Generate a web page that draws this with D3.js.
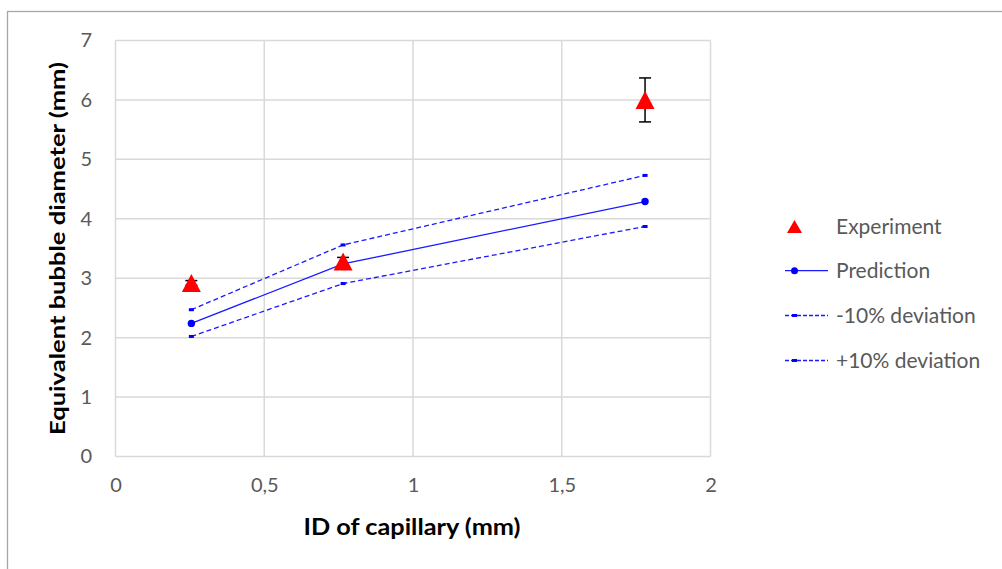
<!DOCTYPE html>
<html>
<head>
<meta charset="utf-8">
<script src="https://cdn.jsdelivr.net/npm/d3@7"></script>
<style>
  html, body { margin: 0; padding: 0; background: #fff; }
  svg { display: block; }
  text { font-family: Lato, "Open Sans", sans-serif; }
</style>
</head>
<body>
<svg id="chart" width="1002" height="569"></svg>
<script>
// ---- data ----
const capillaryID = [0.255, 0.765, 1.78];
const experiment = [2.92, 3.28, 6.0];
const experimentErr = [0.04, 0.07, 0.37];
const prediction = [2.24, 3.24, 4.29];
const minus10 = [2.02, 2.91, 3.87];
const plus10 = [2.47, 3.56, 4.73];
const xTicks = [0, 0.5, 1, 1.5, 2];
const yTicks = [0, 1, 2, 3, 4, 5, 6, 7];
const xTickLabels = ["0", "0,5", "1", "1,5", "2"];
const legendLabels = ["Experiment", "Prediction", "-10% deviation", "+10% deviation"];
const xTitle = "ID of capillary (mm)";
const yTitle = "Equivalent bubble diameter (mm)";

const svg = d3.select("#chart");
const blue = "#1a1aff";
const grey = "#595959";

// outer chart border
svg.append("rect").attr("x", 7.5).attr("y", 11.5).attr("width", 1010).attr("height", 580)
  .attr("fill", "#fff").attr("stroke", "#a6a6a6").attr("stroke-width", 1.3);

const x = d3.scaleLinear().domain([0, 2]).range([115.5, 710.5]);
const y = d3.scaleLinear().domain([0, 7]).range([456.5, 40.5]);

// gridlines
const grid = svg.append("g");
grid.selectAll("line.h").data(yTicks).join("line")
  .attr("x1", x(0)).attr("x2", x(2)).attr("y1", d => y(d)).attr("y2", d => y(d))
  .attr("stroke", "#d9d9d9").attr("stroke-width", 1.5);
grid.selectAll("line.v").data(xTicks).join("line")
  .attr("y1", y(0)).attr("y2", y(7)).attr("x1", d => x(d)).attr("x2", d => x(d))
  .attr("stroke", "#d9d9d9").attr("stroke-width", 1.5);

// axes with d3 axis generators (labels only)
const yAxis = d3.axisLeft(y).tickValues(yTicks).tickSize(0).tickPadding(0).tickFormat(d3.format("d"));
const gy = svg.append("g").attr("transform", `translate(${92},0)`).call(yAxis);
gy.select(".domain").remove();
gy.selectAll("text").attr("fill", grey).attr("font-size", 20).attr("font-family", "Lato, sans-serif");

const xAxis = d3.axisBottom(x).tickValues(xTicks).tickSize(0).tickPadding(0)
  .tickFormat((d, i) => xTickLabels[i]);
const gx = svg.append("g").attr("transform", `translate(0,${478})`).call(xAxis);
gx.select(".domain").remove();
gx.selectAll("text").attr("fill", grey).attr("font-size", 20).attr("font-family", "Lato, sans-serif");

// axis titles
svg.append("text").attr("x", 412).attr("y", 535).attr("text-anchor", "middle")
  .attr("font-size", 22).attr("font-weight", "bold").attr("fill", "#000")
  .attr("textLength", 217).attr("lengthAdjust", "spacingAndGlyphs").text(xTitle);
svg.append("text").attr("transform", "translate(65,248.5) rotate(-90)").attr("text-anchor", "middle")
  .attr("font-size", 21).attr("font-weight", "bold").attr("fill", "#000")
  .attr("textLength", 373).attr("lengthAdjust", "spacingAndGlyphs").text(yTitle);

// lines
const line = d3.line().x(d => x(d[0])).y(d => y(d[1]));
function series(vals, dashed) {
  const pts = capillaryID.map((c, i) => [c, vals[i]]);
  svg.append("path").datum(pts).attr("d", line).attr("fill", "none")
    .attr("stroke", blue).attr("stroke-width", 1.3)
    .attr("stroke-dasharray", dashed ? "5,3" : null);
  return pts;
}
const pPlus = series(plus10, true);
const pMinus = series(minus10, true);
const pPred = series(prediction, false);

svg.append("g").selectAll("rect").data(pPlus.concat(pMinus)).join("rect")
  .attr("x", d => x(d[0]) - 2.5).attr("y", d => y(d[1]) - 1.5).attr("width", 5).attr("height", 3)
  .attr("fill", "#0000ff");
svg.append("g").selectAll("circle").data(pPred).join("circle")
  .attr("cx", d => x(d[0])).attr("cy", d => y(d[1])).attr("r", 3.7).attr("fill", "#0000ff");

// error bars
const eb = svg.append("g").attr("stroke", "#000").attr("stroke-width", 1.5);
capillaryID.forEach((c, i) => {
  const cx = x(c), top = y(experiment[i] + experimentErr[i]), bot = y(experiment[i] - experimentErr[i]);
  eb.append("line").attr("x1", cx).attr("x2", cx).attr("y1", top).attr("y2", bot);
  eb.append("line").attr("x1", cx - 6).attr("x2", cx + 6).attr("y1", top).attr("y2", top);
  eb.append("line").attr("x1", cx - 6).attr("x2", cx + 6).attr("y1", bot).attr("y2", bot);
});

// experiment triangles
function tri(cx, cy, w, h) {
  return `M${cx},${cy - h / 2}L${cx + w / 2},${cy + h / 2}L${cx - w / 2},${cy + h / 2}Z`;
}
svg.append("g").selectAll("path").data(capillaryID).join("path")
  .attr("d", (c, i) => tri(x(c), y(experiment[i]), 19, 18)).attr("fill", "#ff0000");

// legend
const lg = svg.append("g");
const rowY = [226.5, 270.7, 315.5, 360.5];
lg.append("path").attr("d", tri(794.5, rowY[0], 15, 13)).attr("fill", "#ff0000");
[1, 2, 3].forEach(r => {
  lg.append("line").attr("x1", 785).attr("x2", 828).attr("y1", rowY[r]).attr("y2", rowY[r])
    .attr("stroke", blue).attr("stroke-width", 1.3).attr("stroke-dasharray", r === 1 ? null : "4,2");
  if (r === 1) lg.append("circle").attr("cx", 794.5).attr("cy", rowY[r]).attr("r", 3.5).attr("fill", "#0000ff");
  else lg.append("rect").attr("x", 792).attr("y", rowY[r] - 1.5).attr("width", 5).attr("height", 3).attr("fill", "#0000ff");
});
lg.selectAll("text").data(legendLabels).join("text")
  .attr("x", 836).attr("y", (d, i) => rowY[i] + 7.5)
  .attr("font-size", 21).attr("fill", grey).text(d => d);
</script>
</body>
</html>
